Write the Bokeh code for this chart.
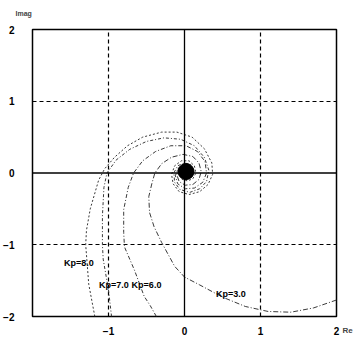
from bokeh.plotting import figure
from bokeh.models import FixedTicker, Span, Label, ColumnDataSource
from bokeh.core.properties import value
from bokeh.embed import file_html
from bokeh.resources import INLINE

# ---- data ----
kp8_re = [-1.18, -1.26, -1.30, -1.29, -1.24, -1.13, -1.05, -0.92, -0.75, -0.55, -0.30, -0.10, 0.10, 0.26, 0.36, 0.37,
          0.31, 0.20, 0.06, -0.07, -0.15, -0.17, -0.13, -0.04, 0.06, 0.13, 0.15, 0.11, 0.04, -0.03, -0.06, -0.05, 0.00, 0.04, 0.04]
kp8_im = [-2.00, -1.55, -1.00, -0.80, -0.50, -0.10, 0.06, 0.22, 0.38, 0.50, 0.57, 0.57, 0.50, 0.34, 0.14, -0.02,
          -0.16, -0.26, -0.30, -0.26, -0.15, -0.02, 0.10, 0.17, 0.17, 0.10, 0.00, -0.08, -0.11, -0.09, -0.03, 0.03, 0.05, 0.03, 0.00]

kp7_re = [-0.96, -1.00, -1.07, -1.08, -1.08, -1.06, -1.02, -0.90, -0.72, -0.50, -0.27, -0.05, 0.13, 0.26, 0.32,
          0.29, 0.20, 0.07, -0.06, -0.13, -0.14, -0.09, 0.00, 0.08, 0.12, 0.10, 0.04, -0.02, -0.04, -0.02, 0.02]
kp7_im = [-2.00, -1.63, -1.20, -1.00, -0.60, -0.20, 0.00, 0.18, 0.33, 0.44, 0.49, 0.47, 0.38, 0.22, 0.04,
          -0.12, -0.22, -0.27, -0.23, -0.13, 0.00, 0.10, 0.14, 0.12, 0.04, -0.05, -0.09, -0.07, -0.02, 0.02, 0.03]

kp6_re = [-0.37, -0.45, -0.53, -0.66, -0.79, -0.80, -0.80, -0.74, -0.67, -0.55, -0.38, -0.18, 0.02, 0.17, 0.27, 0.29,
          0.24, 0.13, 0.01, -0.09, -0.12, -0.09, -0.02, 0.06, 0.10, 0.08, 0.03, -0.02, -0.03, 0.00]
kp6_im = [-2.00, -1.85, -1.72, -1.35, -1.03, -0.83, -0.51, -0.20, 0.00, 0.17, 0.30, 0.38, 0.38, 0.30, 0.16, 0.00,
          -0.13, -0.21, -0.22, -0.15, -0.04, 0.06, 0.11, 0.10, 0.03, -0.04, -0.07, -0.05, 0.00, 0.02]

kp3_re = [2.00, 1.70, 1.40, 1.10, 0.80, 0.50, 0.20, 0.00, -0.13, -0.30, -0.40, -0.46, -0.47, -0.43, -0.39, -0.30,
          -0.17, -0.02, 0.11, 0.19, 0.22, 0.19, 0.11, 0.01, -0.07, -0.10, -0.08, -0.02, 0.04, 0.07, 0.06, 0.02, 0.00]
kp3_im = [-1.77, -1.88, -1.94, -1.93, -1.86, -1.73, -1.56, -1.45, -1.30, -0.97, -0.75, -0.55, -0.33, -0.15, 0.00, 0.13,
          0.22, 0.26, 0.23, 0.14, 0.02, -0.09, -0.16, -0.17, -0.12, -0.03, 0.05, 0.09, 0.08, 0.03, -0.02, -0.04, -0.02]

labels = ["Kp=8.0", "Kp=7.0", "Kp=6.0", "Kp=3.0"]
label_re = [-1.39, -0.93, -0.50, 0.61]
label_im = [-1.26, -1.56, -1.56, -1.68]

center_re = [0.02]
center_im = [0.02]

x_ticks = [-1, 0, 1, 2]
y_ticks = [-2, -1, 0, 1, 2]
grid_ticks = [-1, 1]

FONT = "Liberation Sans"

# ---- figure ----
p = figure(width=353, height=337, x_range=(-2, 2), y_range=(-2, 2),
           output_backend="svg", toolbar_location=None,
           min_border_left=32, min_border_right=17, min_border_top=29, min_border_bottom=18)
p.background_fill_color = "white"
p.border_fill_color = "white"
p.outline_line_color = "black"
p.outline_line_width = 1.5

for ax in (p.xaxis, p.yaxis):
    ax.axis_line_color = None
    ax.major_tick_line_color = None
    ax.minor_tick_line_color = None
    ax.major_label_text_font = FONT
    ax.major_label_text_font_style = "bold"
    ax.major_label_text_font_size = "10px"
    ax.major_label_text_color = "black"
p.xaxis.ticker = FixedTicker(ticks=x_ticks)
p.yaxis.ticker = FixedTicker(ticks=y_ticks)
p.xaxis.major_label_standoff = 4
p.yaxis.major_label_standoff = 12

p.xgrid.ticker = FixedTicker(ticks=grid_ticks)
p.ygrid.ticker = FixedTicker(ticks=grid_ticks)
for g in (p.xgrid, p.ygrid):
    g.grid_line_color = "black"
    g.grid_line_dash = "4 3"
    g.grid_line_width = 1.2
    g.grid_line_alpha = 1.0

p.add_layout(Span(location=0, dimension="width", line_color="black", line_width=1.3))
p.add_layout(Span(location=0, dimension="height", line_color="black", line_width=1.3))

curves = [(kp8_re, kp8_im, "2 2"), (kp7_re, kp7_im, "3 2 1 2"),
          (kp6_re, kp6_im, "4 2 1 2"), (kp3_re, kp3_im, "5 2 1 2")]
for xs, ys, dash in curves:
    p.line(xs, ys, line_color="#3a3a3a", line_width=1.0, line_dash=dash)

p.scatter(center_re, center_im, size=16, color="black")

src = ColumnDataSource(dict(x=label_re, y=label_im, t=labels))
p.text("x", "y", "t", source=src, text_font=value(FONT),
       text_font_style="bold", text_font_size="9px", text_align="center",
       text_baseline="middle", text_color="black")

# axis names, placed in the side panels
p.add_layout(Label(x=-17, y=13, x_units="screen", y_units="screen", text="Imag",
                   text_font=FONT, text_font_style="bold", text_font_size="7px",
                   text_align="left", text_baseline="bottom"), "above")
p.add_layout(Label(x=6, y=-14, x_units="screen", y_units="screen", text="Re",
                   text_font=FONT, text_font_style="bold", text_font_size="8px",
                   text_align="left", text_baseline="middle"), "right")

open("out.html", "w").write(file_html(p, INLINE))
